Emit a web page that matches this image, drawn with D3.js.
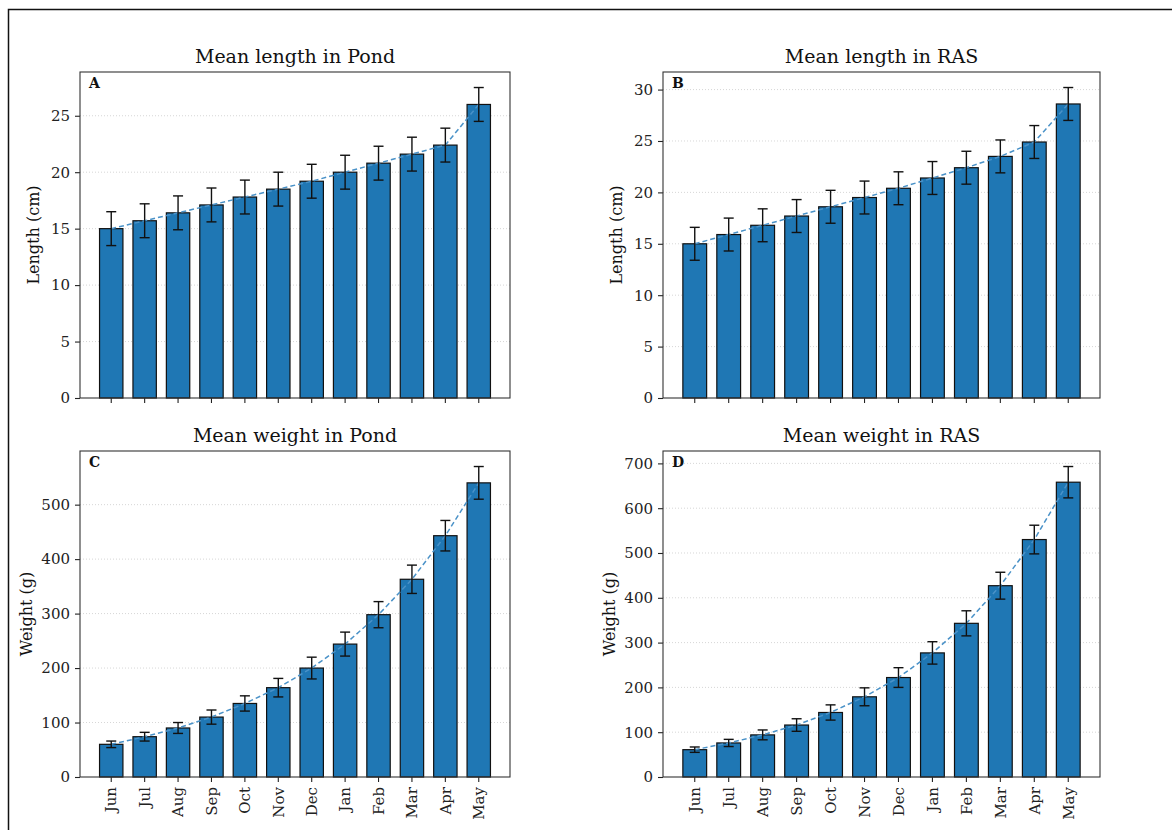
<!DOCTYPE html>
<meta charset="utf-8">
<style>
    body {
        margin: 0;
        background: white;
    }
    svg {
        font-family: "DejaVu Serif", serif;
    }
    .axis path,
    .axis line {
        stroke: #222;
        stroke-width: 1.1;
    }
    .axis text {
        font-family: "DejaVu Serif", serif;
        font-size: 15px;
        fill: #222;
    }
    .grid line {
        stroke: #ccc;
        stroke-width: 0.8;
        stroke-dasharray: 1,2;
    }
</style>
<body>
<script src="https://cdn.jsdelivr.net/npm/d3@7"></script>
<script>
    // months of the sampling period
    const months = ["Jun", "Jul", "Aug", "Sep", "Oct", "Nov", "Dec", "Jan", "Feb", "Mar", "Apr", "May"];

    // mean length (cm) and error
    const pondLength = [15.0, 15.7, 16.4, 17.1, 17.8, 18.5, 19.2, 20.0, 20.8, 21.6, 22.4, 26.0];
    const pondLengthErr = [1.5, 1.5, 1.5, 1.5, 1.5, 1.5, 1.5, 1.5, 1.5, 1.5, 1.5, 1.5];
    const rasLength = [15.0, 15.9, 16.8, 17.7, 18.6, 19.5, 20.4, 21.4, 22.4, 23.5, 24.9, 28.6];
    const rasLengthErr = [1.6, 1.6, 1.6, 1.6, 1.6, 1.6, 1.6, 1.6, 1.6, 1.6, 1.6, 1.6];

    // mean weight (g) and error
    const pondWeight = [60, 74, 90, 110, 135, 164, 200, 244, 298, 363, 443, 540];
    const pondWeightErr = [6, 8, 10, 13, 14, 17, 20, 22, 24, 26, 28, 30];
    const rasWeight = [61, 76, 94, 116, 144, 179, 222, 277, 343, 427, 530, 658];
    const rasWeightErr = [6, 8, 11, 14, 17, 20, 22, 25, 28, 30, 32, 35];

    const lengthTicks = [0, 5, 10, 15, 20, 25, 30];
    const weightTicks = [0, 100, 200, 300, 400, 500, 600, 700];

    const panels = [
        {title: "Mean length in Pond", letter: "A", label: "Length (cm)", values: pondLength, errs: pondLengthErr, ticks: lengthTicks, x: 80, y: 72, labelOff: -41, xLabels: false},
        {title: "Mean length in RAS", letter: "B", label: "Length (cm)", values: rasLength, errs: rasLengthErr, ticks: lengthTicks, x: 663, y: 72, labelOff: -41, xLabels: false},
        {title: "Mean weight in Pond", letter: "C", label: "Weight (g)", values: pondWeight, errs: pondWeightErr, ticks: weightTicks, x: 80, y: 451, labelOff: -48, xLabels: true},
        {title: "Mean weight in RAS", letter: "D", label: "Weight (g)", values: rasWeight, errs: rasWeightErr, ticks: weightTicks, x: 663, y: 451, labelOff: -48, xLabels: true}
    ];

    const width = 1172, height = 830;
    const pw = [430, 437];
    const ph = 326;

    const svg = d3.select("body").append("svg")
        .attr("width", width)
        .attr("height", height);

    // outer frame
    svg.append("path")
        .attr("d", `M8.5,${height}V9.5H${width}`)
        .attr("fill", "none")
        .attr("stroke", "#111")
        .attr("stroke-width", 1.5);

    panels.forEach((p, k) => {
        const w = pw[k % 2];
        const g = svg.append("g").attr("transform", `translate(${p.x},${p.y})`);
        const data = months.map((m, i) => ({month: m, v: p.values[i], e: p.errs[i]}));

        const x = d3.scaleBand()
            .domain(months)
            .range([0, w])
            .paddingInner(0.3)
            .paddingOuter(0.585);
        const yMax = d3.max(data, d => d.v + d.e) * 1.05;
        const y = d3.scaleLinear().domain([0, yMax]).range([ph, 0]);
        const ticks = p.ticks.filter(t => t <= yMax);

        // grid
        g.append("g").attr("class", "grid")
            .selectAll("line")
            .data(ticks.slice(1))
            .enter().append("line")
            .attr("x1", 0).attr("x2", w)
            .attr("y1", d => y(d)).attr("y2", d => y(d));

        // bars
        g.selectAll(".bar")
            .data(data)
            .enter().append("rect")
            .attr("class", "bar")
            .attr("x", d => x(d.month))
            .attr("width", x.bandwidth())
            .attr("y", d => y(d.v))
            .attr("height", d => ph - y(d.v))
            .style("fill", "#1f77b4")
            .style("stroke", "#111")
            .style("stroke-width", 1.2);

        // trend line through means
        const line = d3.line()
            .x(d => x(d.month) + x.bandwidth() / 2)
            .y(d => y(d.v));
        g.append("path")
            .datum(data)
            .attr("d", line)
            .attr("fill", "none")
            .attr("stroke", "#4a92c8")
            .attr("stroke-width", 1.5)
            .attr("stroke-dasharray", "5,3");

        // error bars
        const eb = g.selectAll(".err")
            .data(data)
            .enter().append("g")
            .attr("class", "err")
            .attr("transform", d => `translate(${x(d.month) + x.bandwidth() / 2},0)`)
            .style("stroke", "#111")
            .style("stroke-width", 1.4);
        eb.append("line").attr("y1", d => y(d.v - d.e)).attr("y2", d => y(d.v + d.e));
        eb.append("line").attr("x1", -5).attr("x2", 5).attr("y1", d => y(d.v + d.e)).attr("y2", d => y(d.v + d.e));
        eb.append("line").attr("x1", -5).attr("x2", 5).attr("y1", d => y(d.v - d.e)).attr("y2", d => y(d.v - d.e));

        // axes
        g.append("g").attr("class", "axis")
            .call(d3.axisLeft(y).tickValues(ticks).tickSize(5).tickPadding(5).tickSizeOuter(0))
            .select(".domain").remove();

        const xAxis = g.append("g").attr("class", "axis")
            .attr("transform", `translate(0,${ph})`)
            .call(d3.axisBottom(x).tickSize(5).tickPadding(5).tickSizeOuter(0)
                .tickFormat(p.xLabels ? (d => d) : ""));
        xAxis.select(".domain").remove();
        xAxis.selectAll("text")
            .attr("transform", "rotate(-90)")
            .attr("x", -10)
            .attr("y", 0)
            .attr("dy", "0.35em")
            .style("text-anchor", "end");

        // frame
        g.append("rect")
            .attr("width", w)
            .attr("height", ph)
            .attr("fill", "none")
            .attr("stroke", "#333")
            .attr("stroke-width", 1.1);

        // titles and labels
        g.append("text")
            .attr("x", w / 2)
            .attr("y", -9)
            .attr("text-anchor", "middle")
            .style("font-size", "19px")
            .style("fill", "#111")
            .text(p.title);

        g.append("text")
            .attr("x", 9)
            .attr("y", 16)
            .style("font-size", "14px")
            .style("font-weight", "bold")
            .style("fill", "#111")
            .text(p.letter);

        g.append("text")
            .attr("transform", `translate(${p.labelOff},${ph / 2}) rotate(-90)`)
            .attr("text-anchor", "middle")
            .style("font-size", "16px")
            .style("fill", "#111")
            .text(p.label);
    });
</script>
</body>
</html>
